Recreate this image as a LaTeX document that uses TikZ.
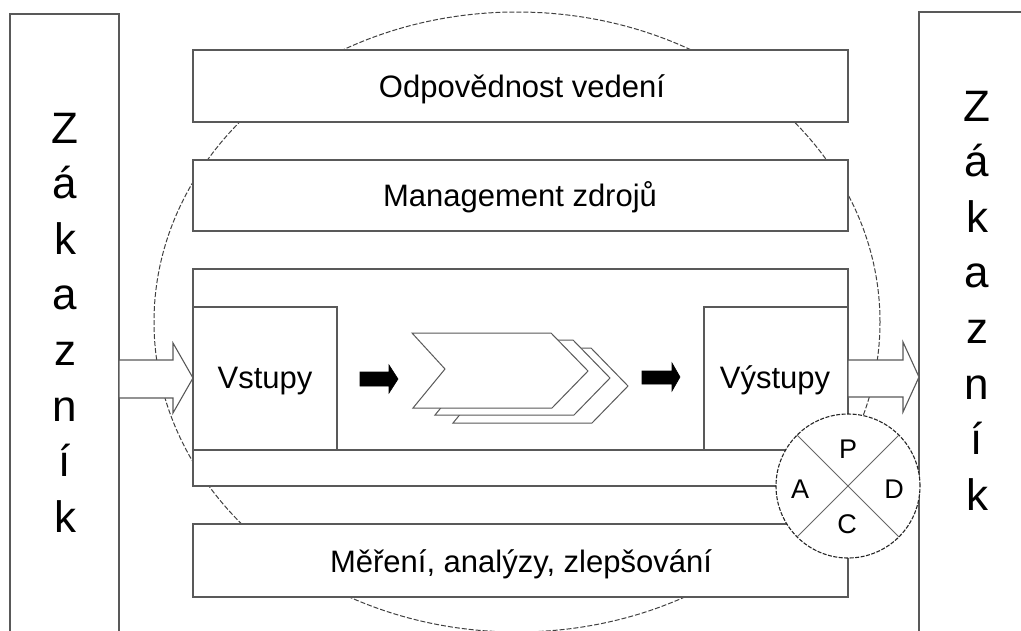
\documentclass[tikz,border=0pt]{standalone}
\usepackage{fontspec}
\setmainfont{Liberation Sans}
\begin{document}
\begin{tikzpicture}[x=1pt,y=-1pt,
  frame/.style={draw=black!65, line width=1.1pt, fill=white, inner sep=0pt, outer sep=0pt},
  boxlabel/.style={font=\fontsize{31}{36}\selectfont, anchor=base, inner sep=0pt},
  custletter/.style={font=\fontsize{44}{50}\selectfont, anchor=base, inner sep=0pt},
  pdcaletter/.style={font=\fontsize{27}{30}\selectfont, anchor=base, inner sep=0pt},
  hollowarrow/.style={draw=black!65, line width=1.1pt, fill=white, line join=miter},
  flowarrow/.style={fill=black, draw=black, line width=0.6pt},
  procstep/.style={draw=black!65, line width=1pt, fill=white}]
\useasboundingbox (0,0) rectangle (1021,630);
\clip (0,0) rectangle (1021,630);

% process cycle in the background
\draw[black!75, line width=1pt, dash pattern=on 5pt off 2pt]
  (517,322) ellipse [x radius=363pt, y radius=310pt];

% customer columns
\node[frame, minimum width=109pt, minimum height=646pt] (custL) at (64.5,337) {};
\node[frame, minimum width=121pt, minimum height=648pt] (custR) at (979.5,336) {};
\foreach \ch [count=\i from 0] in {Z,á,k,a,z,n,í,k} {
  \node[custletter] (zl\i) at (65,143+55.6*\i) {\ch};
  \node[custletter] (zr\i) at (977,121+55.6*\i) {\ch};
}

% management system blocks
\node[frame, minimum width=655pt, minimum height=72pt] (resp) at (520.5,86) {};
\node[frame, minimum width=655pt, minimum height=71pt] (res) at (520.5,195.5) {};
\node[frame, minimum width=655pt, minimum height=217pt] (proc) at (520.5,377.5) {};
\node[frame, minimum width=655pt, minimum height=73pt] (meas) at (520.5,560.5) {};
\node[boxlabel] (tresp) at (522,97) {Odpovědnost vedení};
\node[boxlabel] (tres) at (520,206) {Management zdrojů};
\node[boxlabel] (tmeas) at (521,572) {Měření, analýzy, zlepšování};

% inputs and outputs
\node[frame, minimum width=144pt, minimum height=143pt] (inp) at (265,378.5) {};
\node[frame, minimum width=144pt, minimum height=143pt] (outp) at (776,378.5) {};
\draw[black!65, line width=1.1pt] (inp.south east) -- (outp.south west);
\node[boxlabel] (tinp) at (265,388) {Vstupy};
\node[boxlabel] (toutp) at (775,388) {Výstupy};

% customer requirements in, products out
\draw[hollowarrow] (custL.east |- 0,360) -- (173,360) -- (173,343) -- (proc.west |- 0,378)
  -- (173,413) -- (173,398) -- (custL.east |- 0,398) -- cycle;
\draw[hollowarrow] (proc.east |- 0,360) -- (903,360) -- (903,342) -- (custR.west |- 0,377)
  -- (903,412) -- (903,397) -- (proc.east |- 0,397) -- cycle;

% process chain
\foreach \dx/\dy [count=\k] in {40/15,22/7,0/0} {
  \draw[procstep] (412+\dx,333+\dy) -- (551+\dx,333+\dy) -- (588+\dx,371+\dy)
    -- (552+\dx,408+\dy) -- (413+\dx,408+\dy) -- (445+\dx,369+\dy) -- cycle;
}
\fill[flowarrow] (360,372) -- (389,372) -- (389,365) -- (398,379) -- (389,393) -- (389,386) -- (360,386) -- cycle;
\fill[flowarrow] (642,371) -- (672,371) -- (672,363) -- (680,377) -- (672,391) -- (672,384) -- (642,384) -- cycle;

% PDCA wheel
\node[circle, draw=black!85, line width=1.1pt, dash pattern=on 4pt off 1.5pt, fill=white,
  minimum size=144pt, inner sep=0pt, outer sep=0pt] (pdca) at (848,486) {};
\draw[black!60, line width=0.8pt] (pdca.north west) -- (pdca.south east);
\draw[black!60, line width=0.8pt] (pdca.north east) -- (pdca.south west);
\node[pdcaletter] (plan) at (848,458) {P};
\node[pdcaletter] (act) at (800,498) {A};
\node[pdcaletter] (do) at (894,498) {D};
\node[pdcaletter] (check) at (847,533) {C};
\end{tikzpicture}
\end{document}
